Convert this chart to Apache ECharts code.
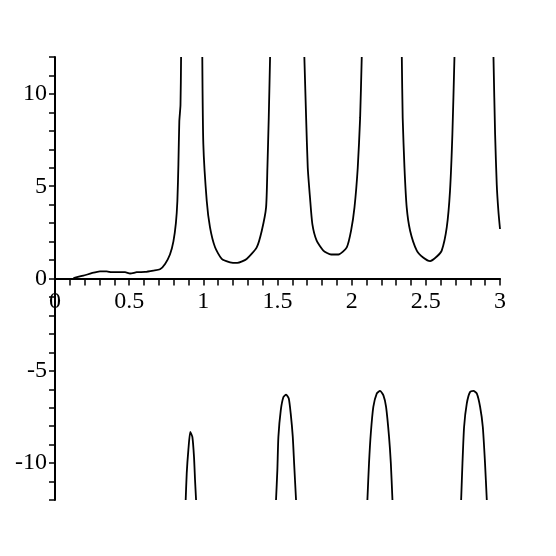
<!DOCTYPE html>
<html>
<head>
<meta charset="utf-8">
<script src="https://cdn.jsdelivr.net/npm/echarts@6/dist/echarts.min.js"></script>
<style>
  html, body { margin: 0; padding: 0; background: #fff; }
  #chart { width: 556px; height: 556px; }
</style>
</head>
<body>
<div id="chart"></div>
<script>
  // axis ranges
  var xRange = [0, 3];
  var yRange = [-12, 12];
  var xLabelStep = 0.5;
  var yLabelStep = 5;

  // positive branches as [x, y]
  var branch1 = [[0.124, 0.02], [0.191, 0.15], [0.247, 0.29], [0.303, 0.39], [0.348, 0.39], [0.382, 0.34],
    [0.472, 0.34], [0.506, 0.27], [0.551, 0.34], [0.607, 0.36], [0.663, 0.43], [0.708, 0.5], [0.742, 0.79],
    [0.775, 1.3], [0.798, 2.0], [0.815, 3.0], [0.825, 4.2], [0.832, 6.2], [0.838, 8.5], [0.846, 9.4], [0.85, 12]];
  var branch2 = [[0.993, 12], [1.0, 7.27], [1.023, 4.2], [1.045, 2.77], [1.079, 1.69], [1.124, 1.06], [1.18, 0.88],
    [1.229, 0.85], [1.292, 1.06], [1.36, 1.69], [1.394, 2.59], [1.423, 3.85], [1.432, 6.01], [1.441, 8.71], [1.45, 12]];
  var branch3 = [[1.681, 12], [1.693, 8.7], [1.704, 6.0], [1.719, 4.39], [1.735, 2.95], [1.764, 2.05], [1.809, 1.51],
    [1.861, 1.3], [1.911, 1.3], [1.967, 1.69], [1.996, 2.59], [2.019, 3.85], [2.041, 6.0], [2.057, 8.7], [2.068, 12]];
  var branch4 = [[2.338, 12], [2.344, 8.7], [2.356, 6.0], [2.371, 3.85], [2.394, 2.59], [2.439, 1.51], [2.484, 1.12],
    [2.529, 0.94], [2.574, 1.19], [2.607, 1.51], [2.641, 2.77], [2.663, 4.75], [2.679, 7.81], [2.693, 12]];
  var branch5 = [[2.956, 12], [2.967, 7.81], [2.978, 5.11], [2.989, 3.67], [3.0, 2.68]];

  // negative branches
  var dip1 = [[0.881, -12], [0.888, -10.56], [0.899, -9.3], [0.912, -8.31], [0.926, -8.58], [0.937, -9.65],
    [0.944, -10.9], [0.951, -12]];
  var dip2 = [[1.49, -12], [1.499, -10.38], [1.506, -8.58], [1.522, -7.14], [1.54, -6.42], [1.558, -6.29],
    [1.576, -6.5], [1.589, -7.31], [1.603, -8.58], [1.612, -10.0], [1.625, -12]];
  var dip3 = [[2.106, -12], [2.117, -10.0], [2.129, -8.4], [2.146, -6.96], [2.169, -6.24], [2.191, -6.09],
    [2.214, -6.33], [2.232, -6.96], [2.252, -8.58], [2.264, -10.0], [2.275, -12]];
  var dip4 = [[2.738, -12], [2.747, -10.0], [2.758, -8.03], [2.776, -6.78], [2.798, -6.15], [2.821, -6.09],
    [2.844, -6.24], [2.866, -6.96], [2.884, -8.03], [2.899, -10.0], [2.911, -12]];

  var branches = [branch1, branch2, branch3, branch4, branch5, dip1, dip2, dip3, dip4];

  function onStep(v, step) {
    var k = v / step;
    return Math.abs(k - Math.round(k)) < 1e-6;
  }

  var gridTop = 57, gridBottom = 56;
  var plotH = 556 - gridTop - gridBottom;
  // move the x axis up so it crosses at y = 0
  var xOffset = -plotH * (0 - yRange[0]) / (yRange[1] - yRange[0]);

  var chart = echarts.init(document.getElementById('chart'));
  chart.setOption({
    animation: false,
    backgroundColor: '#fff',
    grid: { left: 55, right: 56, top: gridTop, bottom: gridBottom },
    xAxis: {
      type: 'value',
      min: xRange[0],
      max: xRange[1],
      interval: 0.1,
      offset: xOffset,
      axisLine: { onZero: false, lineStyle: { color: '#000', width: 2 } },
      axisTick: { length: 7, lineStyle: { color: '#000', width: 1.5 } },
      axisLabel: {
        margin: 11,
        fontFamily: "'Liberation Serif', serif",
        fontSize: 24,
        color: '#000',
        formatter: function (v) {
          return onStep(v, xLabelStep) ? String(Math.round(v * 10) / 10) : '';
        }
      },
      splitLine: { show: false }
    },
    yAxis: {
      type: 'value',
      min: yRange[0],
      max: yRange[1],
      interval: 1,
      axisLine: { onZero: false, lineStyle: { color: '#000', width: 2 } },
      axisTick: { length: 6, lineStyle: { color: '#000', width: 1.5 } },
      axisLabel: {
        margin: 8,
        fontFamily: "'Liberation Serif', serif",
        fontSize: 24,
        color: '#000',
        formatter: function (v) {
          return onStep(v, yLabelStep) ? String(Math.round(v)) : '';
        }
      },
      splitLine: { show: false }
    },
    series: branches.map(function (b) {
      return {
        type: 'line',
        data: b,
        showSymbol: false,
        symbol: 'none',
        smooth: 0.2,
        lineStyle: { color: '#000', width: 1.8 }
      };
    })
  });
</script>
</body>
</html>
